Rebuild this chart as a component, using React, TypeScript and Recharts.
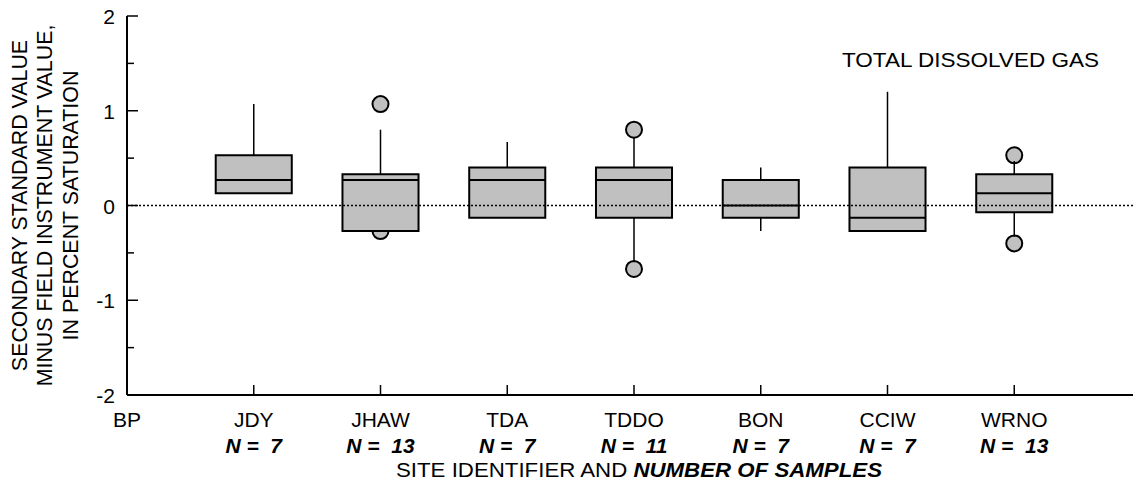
import React from 'react';
import {
  ComposedChart,
  XAxis,
  YAxis,
  Scatter,
  ReferenceArea,
  ReferenceLine,
} from 'recharts';

// --- data ---
const SITES = ['BP', 'JDY', 'JHAW', 'TDA', 'TDDO', 'BON', 'CCIW', 'WRNO'];
const SAMPLE_COUNTS = [null, 7, 13, 7, 11, 7, 7, 13];

// box statistics per site (BP has no samples)
const LOW = [null, 0.13, -0.27, -0.13, -0.6, -0.27, -0.27, -0.33];
const Q1 = [null, 0.13, -0.27, -0.13, -0.13, -0.13, -0.27, -0.07];
const MEDIAN = [null, 0.27, 0.27, 0.27, 0.27, 0, -0.13, 0.13];
const Q3 = [null, 0.53, 0.33, 0.4, 0.4, 0.27, 0.4, 0.33];
const HIGH = [null, 1.07, 0.8, 0.67, 0.72, 0.4, 1.2, 0.47];

// outliers: site index + value
const OUTLIER_SITE = [2, 2, 4, 4, 7, 7];
const OUTLIER_VALUE = [1.07, -0.27, 0.8, -0.67, 0.53, -0.4];

const X_TICKS = [0, 1, 2, 3, 4, 5, 6, 7];
const TOP_TICKS = [1, 2, 3, 4, 5, 6, 7];
const Y_TICKS = [-2, -1.5, -1, -0.5, 0, 0.5, 1, 1.5, 2];

const FONT = '"Liberation Sans", Arial, Helvetica, sans-serif';
const BOX_FILL = '#c0c0c0';
const HALF_BOX = 0.3;

const outliers = OUTLIER_SITE.map((s, i) => ({ x: s, y: OUTLIER_VALUE[i] }));

// bottom axis: inward tick, site name, sample count
const BottomTick = ({ x, y, payload }: any) => {
  const i = payload.value;
  const n = SAMPLE_COUNTS[i];
  return (
    <g>
      {i > 0 && <line x1={x} y1={y} x2={x} y2={y - 10} stroke="#000" strokeWidth={1.5} />}
      <text x={x} y={y + 32} textAnchor="middle" fontSize={21} fill="#000" fontFamily={FONT}>
        {SITES[i]}
      </text>
      {n != null && (
        <text
          x={x}
          y={y + 58}
          textAnchor="middle"
          fontSize={21}
          fontWeight="bold"
          fontStyle="italic"
          fill="#000"
          fontFamily={FONT}
          style={{ whiteSpace: 'pre' }}
        >
          {`N =  ${n}`}
        </text>
      )}
    </g>
  );
};

const TopTick = ({ x, y }: any) => (
  <line x1={x} y1={y} x2={x} y2={y + 10} stroke="#000" strokeWidth={1.5} />
);

const LeftTick = ({ x, y, payload }: any) => {
  const v = payload.value;
  const major = Number.isInteger(v);
  return (
    <g>
      <line x1={x} y1={y} x2={x + (major ? 11 : 7)} y2={y} stroke="#000" strokeWidth={1.5} />
      {major && (
        <text x={x - 12} y={y + 8} textAnchor="end" fontSize={21} fill="#000" fontFamily={FONT}>
          {v}
        </text>
      )}
    </g>
  );
};

const RightTick = ({ x, y, payload }: any) => {
  const major = Number.isInteger(payload.value);
  return <line x1={x} y1={y} x2={x - (major ? 11 : 7)} y2={y} stroke="#000" strokeWidth={1.5} />;
};

const YTitle = ({ viewBox }: any) => {
  const cy = viewBox.y + viewBox.height / 2;
  const lines = ['SECONDARY STANDARD VALUE', 'MINUS FIELD INSTRUMENT VALUE,', 'IN PERCENT SATURATION'];
  const xs = [27, 52, 78];
  return (
    <g>
      {lines.map((t, i) => (
        <text
          key={t}
          transform={`translate(${xs[i]},${cy}) rotate(-90)`}
          textAnchor="middle"
          fontSize={21.4}
          fill="#000"
          fontFamily={FONT}
        >
          {t}
        </text>
      ))}
    </g>
  );
};

const XTitle = ({ viewBox }: any) => {
  const cx = viewBox.x + viewBox.width / 2 + 5;
  return (
    <text
      x={cx}
      y={477}
      textAnchor="middle"
      fontSize={21}
      fill="#000"
      fontFamily={FONT}
      textLength={486}
      lengthAdjust="spacingAndGlyphs"
      style={{ whiteSpace: 'pre' }}
    >
      <tspan>SITE IDENTIFIER AND </tspan>
      <tspan fontWeight="bold" fontStyle="italic">NUMBER OF SAMPLES</tspan>
    </text>
  );
};

export default function App() {
  const sites = SITES.map((_, i) => i).filter((i) => Q1[i] != null);
  return (
    <div style={{ position: 'absolute', left: 0, top: 0, width: 1133, height: 485, overflow: 'hidden', background: '#fff' }}>
      <ComposedChart
        width={1160}
        height={485}
        margin={{ top: 16, right: 19, left: 0, bottom: 0 }}
        style={{ fontFamily: FONT }}
      >
        <XAxis
          xAxisId={0}
          type="number"
          dataKey="x"
          domain={[0, 8]}
          ticks={X_TICKS}
          interval={0}
          height={90}
          tickSize={0}
          tickMargin={0}
          tickLine={false}
          tick={<BottomTick />}
          axisLine={{ stroke: '#000', strokeWidth: 2 }}
          allowDataOverflow
          label={<XTitle />}
        />
        <XAxis
          xAxisId="top"
          orientation="top"
          type="number"
          domain={[0, 8]}
          ticks={TOP_TICKS}
          interval={0}
          height={0}
          tickSize={0}
          tickMargin={0}
          tickLine={false}
          tick={<TopTick />}
          axisLine={{ stroke: '#000', strokeWidth: 2 }}
          allowDataOverflow
        />
        <YAxis
          yAxisId={0}
          type="number"
          dataKey="y"
          domain={[-2, 2]}
          ticks={Y_TICKS}
          interval={0}
          width={127}
          tickSize={0}
          tickMargin={0}
          tickLine={false}
          tick={<LeftTick />}
          axisLine={{ stroke: '#000', strokeWidth: 2 }}
          allowDataOverflow
          label={<YTitle />}
        />
        <YAxis
          yAxisId="right"
          orientation="right"
          type="number"
          domain={[-2, 2]}
          ticks={Y_TICKS}
          interval={0}
          width={0}
          tickSize={0}
          tickMargin={0}
          tickLine={false}
          tick={<RightTick />}
          axisLine={{ stroke: '#000', strokeWidth: 2 }}
          allowDataOverflow
        />

        {/* whiskers */}
        {sites.map((i) =>
          (HIGH[i] as number) > (Q3[i] as number) ? (
            <ReferenceLine
              key={`hi${i}`}
              segment={[{ x: i, y: Q3[i] as number }, { x: i, y: HIGH[i] as number }]}
              stroke="#000"
              strokeWidth={1.5}
            />
          ) : null
        )}
        {sites.map((i) =>
          (LOW[i] as number) < (Q1[i] as number) ? (
            <ReferenceLine
              key={`lo${i}`}
              segment={[{ x: i, y: LOW[i] as number }, { x: i, y: Q1[i] as number }]}
              stroke="#000"
              strokeWidth={1.5}
            />
          ) : null
        )}

        {/* outliers, drawn under the boxes */}
        <Scatter
          data={outliers}
          isAnimationActive={false}
          zIndex={50}
          shape={(p: any) => (
            <circle cx={p.cx} cy={p.cy} r={8} fill={BOX_FILL} stroke="#000" strokeWidth={2} />
          )}
        />

        {/* boxes */}
        {sites.map((i) => (
          <ReferenceArea
            key={`box${i}`}
            x1={i - HALF_BOX}
            x2={i + HALF_BOX}
            y1={Q1[i] as number}
            y2={Q3[i] as number}
            fill={BOX_FILL}
            fillOpacity={1}
            stroke="#000"
            strokeWidth={2}
          />
        ))}

        {/* medians */}
        {sites.map((i) => (
          <ReferenceLine
            key={`med${i}`}
            segment={[{ x: i - HALF_BOX, y: MEDIAN[i] as number }, { x: i + HALF_BOX, y: MEDIAN[i] as number }]}
            stroke="#000"
            strokeWidth={2}
          />
        ))}

        <ReferenceLine y={0} stroke="#000" strokeWidth={1.5} strokeDasharray="2 2" />

        <text x={842} y={67} fontSize={21} fill="#000" fontFamily={FONT} textLength={257} lengthAdjust="spacingAndGlyphs">
          TOTAL DISSOLVED GAS
        </text>
      </ComposedChart>
    </div>
  );
}
